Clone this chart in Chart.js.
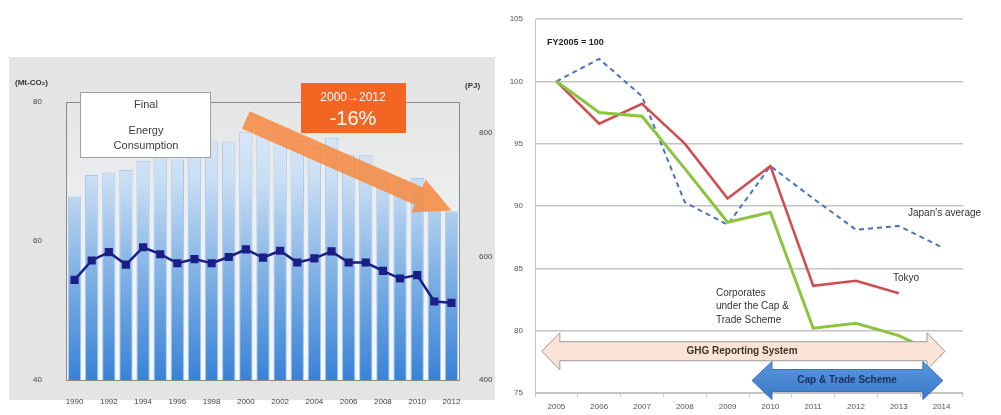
<!DOCTYPE html>
<html><head><meta charset="utf-8">
<script src="https://cdn.jsdelivr.net/npm/chart.js@4/dist/chart.umd.min.js"></script>
<style>
html,body{margin:0;padding:0;background:#fff;width:1001px;height:415px;overflow:hidden}
#c1{position:absolute;left:0;top:0}
#c2{position:absolute;left:500px;top:0}
</style></head><body>
<canvas id="c1" width="500" height="415"></canvas>
<canvas id="c2" width="501" height="415"></canvas>
<script>
// ---------- Left chart data ----------
const years = ['1990','1991','1992','1993','1994','1995','1996','1997','1998','1999','2000','2001','2002','2003','2004','2005','2006','2007','2008','2009','2010','2011','2012'];
const energyPJ = [697,732,736,740,755,760,757,762,786,786,802,794,805,789,777,792,764,764,737,725,727,679,673];
const co2Mt = [54.4,57.2,58.4,56.6,59.1,58.1,56.8,57.4,56.8,57.7,58.8,57.6,58.6,56.9,57.5,58.5,56.9,56.9,55.7,54.6,55.1,51.3,51.1];
const leftTicksMt = [40,60,80];
const rightTicksPJ = [400,600,800];

// ---------- Right chart data ----------
const fyYears = ['2005','2006','2007','2008','2009','2010','2011','2012','2013','2014'];
const japanAvg = [100,101.8,98.8,90.3,88.5,93.2,90.6,88.1,88.4,86.7];
const tokyo = [100,96.6,98.2,95.0,90.6,93.2,83.6,84.0,83.0,null];
const corporates = [100,97.5,97.2,93.0,88.7,89.5,80.2,80.6,79.6,78.0];
const indexTicks = [75,80,85,90,95,100,105];

const FONT = "'Liberation Sans', Arial, sans-serif";
Chart.defaults.font.family = FONT;

function arrowPath(ctx, x1, y1, x2, y2, sh, hh, hl, dbl) {
  const dx = x2 - x1, dy = y2 - y1, L = Math.hypot(dx, dy);
  const ux = dx / L, uy = dy / L, nx = -uy, ny = ux;
  const bx = x2 - ux * hl, by = y2 - uy * hl;
  const pts = [];
  if (dbl) {
    const tx = x1 + ux * hl, ty = y1 + uy * hl;
    pts.push([x1, y1], [tx + nx * hh, ty + ny * hh], [tx + nx * sh, ty + ny * sh],
      [bx + nx * sh, by + ny * sh], [bx + nx * hh, by + ny * hh], [x2, y2],
      [bx - nx * hh, by - ny * hh], [bx - nx * sh, by - ny * sh],
      [tx - nx * sh, ty - ny * sh], [tx - nx * hh, ty - ny * hh]);
  } else {
    pts.push([x1 + nx * sh, y1 + ny * sh], [bx + nx * sh, by + ny * sh], [bx + nx * hh, by + ny * hh],
      [x2, y2], [bx - nx * hh, by - ny * hh], [bx - nx * sh, by - ny * sh], [x1 - nx * sh, y1 - ny * sh]);
  }
  ctx.beginPath();
  pts.forEach((p, i) => i ? ctx.lineTo(p[0], p[1]) : ctx.moveTo(p[0], p[1]));
  ctx.closePath();
}

// ---------- Left chart ----------
const leftDeco = {
  id: 'leftDeco',
  beforeDraw(chart) {
    const ctx = chart.ctx, a = chart.chartArea;
    ctx.save();
    ctx.fillStyle = '#e4e4e4';
    ctx.fillRect(9, 57, 486, 343);
    const g = ctx.createLinearGradient(0, a.top, 0, a.bottom);
    g.addColorStop(0, '#e6e6e6');
    g.addColorStop(1, '#f6f9fd');
    ctx.fillStyle = g;
    ctx.fillRect(a.left, a.top, a.right - a.left, a.bottom - a.top);
    ctx.restore();
  },
  afterDatasetsDraw(chart) {
    const ctx = chart.ctx, a = chart.chartArea, x = chart.scales.x, y = chart.scales.y;
    ctx.save();
    ctx.strokeStyle = '#8a8a8a'; ctx.lineWidth = 1;
    ctx.strokeRect(a.left + 0.5, a.top + 0.5, a.right - a.left - 1, a.bottom - a.top);
    // orange trend arrow 2000 -> 2012
    ctx.fillStyle = 'rgba(245,142,72,0.9)';
    arrowPath(ctx, x.getPixelForValue(10), y.getPixelForValue(77.4), x.getPixelForValue(22), y.getPixelForValue(64.4), 9.5, 18, 36, false);
    ctx.fill();
    // legend box
    ctx.fillStyle = '#ffffff'; ctx.strokeStyle = '#a0a0a0';
    ctx.fillRect(80, 92, 131, 66); ctx.strokeRect(80.5, 92.5, 130, 65);
    ctx.fillStyle = '#3c3c3c'; ctx.font = '11px ' + FONT; ctx.textAlign = 'center'; ctx.textBaseline = 'middle';
    ctx.fillText('Final', 146, 105);
    ctx.fillText('Energy', 146, 131);
    ctx.fillText('Consumption', 146, 146);
    // orange box
    ctx.fillStyle = '#f26522';
    ctx.fillRect(301, 83, 105, 50);
    ctx.fillStyle = '#ffffff';
    ctx.font = '12px ' + FONT; ctx.fillText('2000→2012', 353, 98);
    ctx.font = '20px ' + FONT; ctx.fillText('-16%', 353, 119);
    // unit labels
    ctx.fillStyle = '#333'; ctx.font = 'bold 8px ' + FONT; ctx.textAlign = 'left';
    ctx.fillText('(Mt-CO₂)', 15, 83);
    ctx.fillText('(PJ)', 465, 86);
    ctx.restore();
  }
};

new Chart(document.getElementById('c1'), {
  type: 'bar',
  data: {
    labels: years,
    datasets: [
      {
        type: 'line', label: 'CO2', data: co2Mt, yAxisID: 'y', order: 0,
        borderColor: '#1b1f85', backgroundColor: '#1b1f85', borderWidth: 2.5,
        pointStyle: 'rect', pointRadius: 4, tension: 0
      },
      {
        type: 'bar', label: 'Final Energy Consumption', data: energyPJ, yAxisID: 'y1', order: 1,
        backgroundColor: (c) => {
          const a = c.chart.chartArea; if (!a) return '#8ebbe8';
          const g = c.chart.ctx.createLinearGradient(0, a.top, 0, a.bottom);
          g.addColorStop(0, '#e2edf9'); g.addColorStop(0.28, '#c9def4');
          g.addColorStop(0.6, '#84b4e5'); g.addColorStop(1, '#3a82d6');
          return g;
        },
        borderColor: '#a9c8ea', borderWidth: 1,
        barPercentage: 0.78, categoryPercentage: 1
      }
    ]
  },
  options: {
    responsive: false, animation: false, devicePixelRatio: 1,
    layout: { padding: { top: 102, left: 0, right: 0, bottom: 0 } },
    plugins: { legend: { display: false }, tooltip: { enabled: false } },
    scales: {
      x: {
        grid: { display: false }, border: { display: false },
        afterFit: s => { s.height = 35; },
        ticks: { autoSkip: false, maxRotation: 0, padding: 9, color: '#444', font: { size: 8 },
          callback: function (v, i) { return i % 2 === 0 ? this.getLabelForValue(v) : ''; } }
      },
      y: {
        position: 'left', min: 40, max: 80,
        afterBuildTicks: s => { s.ticks = leftTicksMt.map(v => ({ value: v })); },
        afterFit: s => { s.width = 66; },
        grid: { display: false }, border: { display: false },
        ticks: { padding: 16, color: '#444', font: { size: 8 } }
      },
      y1: {
        position: 'right', min: 400, max: 850,
        afterBuildTicks: s => { s.ticks = rightTicksPJ.map(v => ({ value: v })); },
        afterFit: s => { s.width = 40; },
        grid: { display: false }, border: { display: false },
        ticks: { padding: 11, color: '#444', font: { size: 8 } }
      }
    }
  },
  plugins: [leftDeco]
});

// ---------- Right chart ----------
const OX = 500;
const rightDeco = {
  id: 'rightDeco',
  afterDatasetsDraw(chart) {
    const ctx = chart.ctx, x = chart.scales.x, y = chart.scales.y;
    ctx.save();
    // GHG Reporting System arrow
    const gy = y.getPixelForValue(78.35);
    ctx.fillStyle = '#fbe3d6'; ctx.strokeStyle = '#9a9a9a'; ctx.lineWidth = 1;
    arrowPath(ctx, x.getPixelForValue(-0.34), gy, x.getPixelForValue(9.08), gy, 9.5, 18.5, 18, true);
    ctx.fill(); ctx.stroke();
    // Cap & Trade Scheme arrow
    const cy = y.getPixelForValue(76.0);
    const cg = ctx.createLinearGradient(0, cy - 19, 0, cy + 19);
    cg.addColorStop(0, '#5b97dd'); cg.addColorStop(1, '#3a78c9');
    ctx.fillStyle = cg; ctx.strokeStyle = '#3a72bd';
    arrowPath(ctx, x.getPixelForValue(4.57), cy, x.getPixelForValue(9.03), cy, 11, 19, 20, true);
    ctx.fill(); ctx.stroke();
    ctx.textAlign = 'center'; ctx.textBaseline = 'middle';
    ctx.font = 'bold 10px ' + FONT;
    ctx.fillStyle = '#3d3528';
    ctx.fillText('GHG Reporting System', 742 - OX, gy);
    ctx.fillStyle = '#1b2f5e';
    ctx.fillText('Cap & Trade Scheme', 847 - OX, cy);
    // labels
    ctx.textAlign = 'left';
    ctx.fillStyle = '#222';
    ctx.font = 'bold 9px ' + FONT;
    ctx.fillText('FY2005 = 100', 547 - OX, 43);
    ctx.font = '10px ' + FONT;
    ctx.fillStyle = '#333';
    ctx.fillText("Japan's average", 908 - OX, 213);
    ctx.fillText('Tokyo', 893 - OX, 278);
    ctx.fillText('Corporates', 716 - OX, 293);
    ctx.fillText('under the Cap &', 716 - OX, 306.5);
    ctx.fillText('Trade Scheme', 716 - OX, 320);
    ctx.restore();
  }
};

new Chart(document.getElementById('c2'), {
  type: 'line',
  data: {
    labels: fyYears,
    datasets: [
      { label: 'Corporates under the Cap & Trade Scheme', data: corporates, borderColor: '#8cc43f', borderWidth: 3, pointRadius: 0, tension: 0 },
      { label: 'Tokyo', data: tokyo, borderColor: '#cf4d4f', borderWidth: 2.5, pointRadius: 0, tension: 0 },
      { label: "Japan's average", data: japanAvg, borderColor: '#4a74c0', borderWidth: 2, borderDash: [5, 4], pointRadius: 0, tension: 0 }
    ]
  },
  options: {
    responsive: false, animation: false, devicePixelRatio: 1,
    layout: { padding: { top: 19, right: 38, left: 0, bottom: 0 } },
    plugins: { legend: { display: false }, tooltip: { enabled: false } },
    scales: {
      x: {
        offset: true,
        grid: { offset: true, drawOnChartArea: false, tickLength: 4, color: '#c4c4c4' },
        border: { color: '#c4c4c4' },
        afterFit: s => { s.height = 22; },
        ticks: { autoSkip: false, maxRotation: 0, padding: 5, color: '#555', font: { size: 8 } }
      },
      y: {
        min: 75, max: 105,
        afterBuildTicks: s => { s.ticks = indexTicks.map(v => ({ value: v })); },
        afterFit: s => { s.width = 35; },
        grid: { color: '#c4c4c4', lineWidth: 1.5, drawTicks: false },
        border: { color: '#c4c4c4' },
        ticks: { padding: 12, color: '#555', font: { size: 8 } }
      }
    }
  },
  plugins: [rightDeco]
});
</script>
</body></html>
